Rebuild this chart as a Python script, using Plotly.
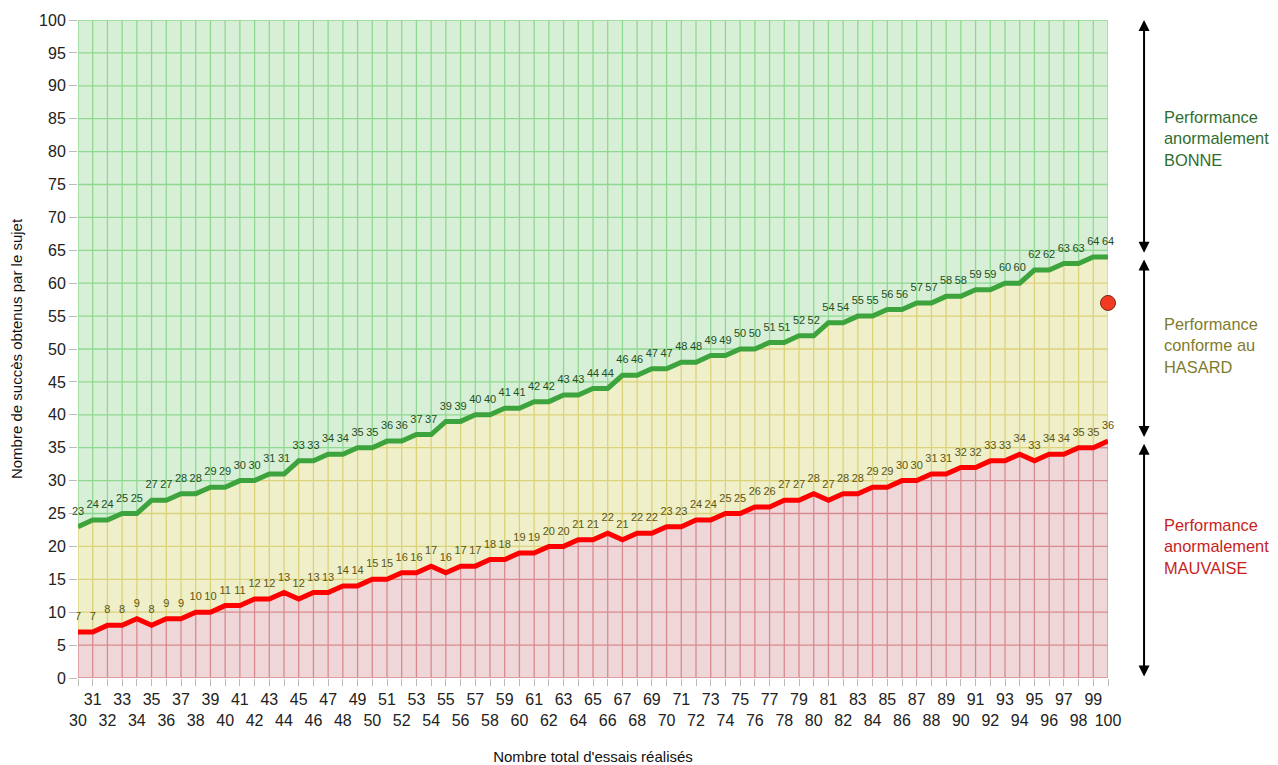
import numpy as np
import plotly.graph_objects as go

# ---------------- data ----------------
essais = list(range(30, 101))
seuil_haut = [23, 24, 24, 25, 25, 27, 27, 28, 28, 29, 29, 30, 30, 31, 31, 33, 33, 34, 34, 35,
              35, 36, 36, 37, 37, 39, 39, 40, 40, 41, 41, 42, 42, 43, 43, 44, 44, 46, 46, 47,
              47, 48, 48, 49, 49, 50, 50, 51, 51, 52, 52, 54, 54, 55, 55, 56, 56, 57, 57, 58,
              58, 59, 59, 60, 60, 62, 62, 63, 63, 64, 64]
seuil_bas = [7, 7, 8, 8, 9, 8, 9, 9, 10, 10, 11, 11, 12, 12, 13, 12, 13, 13, 14, 14,
             15, 15, 16, 16, 17, 16, 17, 17, 18, 18, 19, 19, 20, 20, 21, 21, 22, 21, 22, 22,
             23, 23, 24, 24, 25, 25, 26, 26, 27, 27, 28, 27, 28, 28, 29, 29, 30, 30, 31, 31,
             32, 32, 33, 33, 34, 33, 34, 34, 35, 35, 36]
sujet_essais = [100]
sujet_succes = [57]
y_max = 100
y_ticks = list(range(0, 101, 5))
x_ticklabels = [str(n) if n % 2 else "<br>" + str(n) for n in essais]
zones = ["Performance<br>anormalement<br>BONNE",
         "Performance<br>conforme au<br>HASARD",
         "Performance<br>anormalement<br>MAUVAISE"]

# ---------------- colours ----------------
FILL = ["#efd6d8", "#efefc9", "#d8efd7"]      # red, yellow, green zones
GRID = ["#d98a8e", "#dcd27a", "#8fd88f"]
FONT = "Liberation Sans, Arial, sans-serif"

fig = go.Figure()

# zone fills
fig.add_trace(go.Scatter(x=essais, y=seuil_bas, mode="lines", line=dict(width=0),
                         fill="tozeroy", fillcolor=FILL[0], hoverinfo="skip", showlegend=False))
fig.add_trace(go.Scatter(x=essais, y=seuil_haut, mode="lines", line=dict(width=0),
                         fill="tonexty", fillcolor=FILL[1], hoverinfo="skip", showlegend=False))
fig.add_trace(go.Scatter(x=essais, y=[y_max] * len(essais), mode="lines", line=dict(width=0),
                         fill="tonexty", fillcolor=FILL[2], hoverinfo="skip", showlegend=False))

# grid lines coloured by zone
gx = [[], [], []]
gy = [[], [], []]
for i, n in enumerate(essais):
    bounds = [0, seuil_bas[i], seuil_haut[i], y_max]
    for z in range(3):
        gx[z] += [n, n, None]
        gy[z] += [bounds[z], bounds[z + 1], None]

xs = np.linspace(essais[0], essais[-1], 14001)
lo = np.interp(xs, essais, seuil_bas)
hi = np.interp(xs, essais, seuil_haut)
for k in y_ticks:
    zone = np.where(k < lo, 0, np.where(k < hi, 1, 2))
    if k == 0:
        zone[:] = 0
    if k == y_max:
        zone[:] = 2
    start = 0
    for j in range(1, len(xs) + 1):
        if j == len(xs) or zone[j] != zone[start]:
            z = zone[start]
            gx[z] += [xs[start], xs[min(j, len(xs) - 1)], None]
            gy[z] += [k, k, None]
            start = j
for z in range(3):
    fig.add_trace(go.Scatter(x=gx[z], y=gy[z], mode="lines",
                             line=dict(color=GRID[z], width=1.3),
                             hoverinfo="skip", showlegend=False))

# threshold lines with labels
fig.add_trace(go.Scatter(x=essais, y=seuil_haut, mode="lines+markers+text",
                         line=dict(color="#3da33d", width=5),
                         marker=dict(size=13, color="rgba(0,0,0,0)"),
                         text=[str(v) for v in seuil_haut], textposition="top center",
                         textfont=dict(family=FONT, size=11, color="#1d4f1d"),
                         cliponaxis=False, showlegend=False))
fig.add_trace(go.Scatter(x=essais, y=seuil_bas, mode="lines+markers+text",
                         line=dict(color="#ff0000", width=5),
                         marker=dict(size=13, color="rgba(0,0,0,0)"),
                         text=[str(v) for v in seuil_bas], textposition="top center",
                         textfont=dict(family=FONT, size=11, color="#5c5610"),
                         cliponaxis=False, showlegend=False))

# subject
fig.add_trace(go.Scatter(x=sujet_essais, y=sujet_succes, mode="markers",
                         marker=dict(size=15, color="#f23a22",
                                     line=dict(color="#7a2a1a", width=1)),
                         cliponaxis=False, showlegend=False))

# right-side arrows
ax_x = 1.035
gap = 0.4
for top, bot in [(y_max, seuil_haut[-1] + gap), (seuil_haut[-1] - gap, seuil_bas[-1] + gap),
                 (seuil_bas[-1] - gap, 0)]:
    fig.add_annotation(x=ax_x, xref="paper", y=top, yref="y",
                       ax=0, axref="pixel", ay=bot, ayref="y",
                       text="", showarrow=True, arrowside="end+start",
                       arrowhead=2, arrowsize=1.1, arrowwidth=2, arrowcolor="black",
                       standoff=0, startstandoff=0)

zone_y = [82, 50.5, 20]
zone_col = ["#2f6e2f", "#7f7b2c", "#c81e1e"]
for t, yy, c in zip(zones, zone_y, zone_col):
    fig.add_annotation(x=1.052, xref="paper", y=yy, yref="y", text=t, showarrow=False,
                       xanchor="left", yanchor="middle", align="left",
                       font=dict(family=FONT, size=16.4, color=c))

fig.update_layout(
    width=1270, height=757,
    margin=dict(l=70, r=170, t=12, b=87),
    paper_bgcolor="white", plot_bgcolor="white",
    font=dict(family=FONT, size=16, color="#222222"),
)
fig.update_xaxes(range=[essais[0], essais[-1]], tickvals=essais, ticktext=x_ticklabels,
                 tickangle=0, automargin=False,
                 ticks="outside", ticklen=7, tickcolor="#bbbbbb", tickwidth=1,
                 showgrid=False, zeroline=False, showline=False,
                 tickfont=dict(family=FONT, size=16, color="#222222"),
                 title=dict(text="Nombre total d'essais réalisés",
                            font=dict(family=FONT, size=15, color="#111111"), standoff=32))
fig.update_yaxes(range=[0, y_max], tickvals=y_ticks, automargin=False,
                 ticks="outside", ticklen=8, tickcolor="#bbbbbb", tickwidth=1,
                 showgrid=False, zeroline=False, showline=False,
                 tickfont=dict(family=FONT, size=16, color="#222222"),
                 title=dict(text="Nombre de succès obtenus par le sujet",
                            font=dict(family=FONT, size=15, color="#111111"), standoff=14))

fig.write_html("out.html")
